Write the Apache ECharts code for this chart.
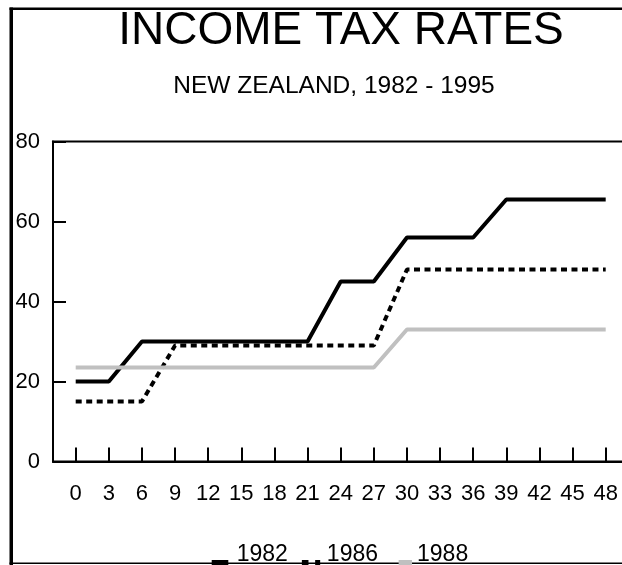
<!DOCTYPE html>
<html>
<head>
<meta charset="utf-8">
<title>Income tax rates</title>
<script src="https://cdn.jsdelivr.net/npm/echarts@6/dist/echarts.min.js"></script>
<style>
  html, body { margin: 0; padding: 0; background: #fff; }
  #chart { width: 622px; height: 565px; }
</style>
</head>
<body>
<div id="chart"></div>
<script>
// income ($000) and marginal rates (%)
const incomes = [0, 3, 6, 9, 12, 15, 18, 21, 24, 27, 30, 33, 36, 39, 42, 45, 48]
const rates1982 = [20, 20, 30, 30, 30, 30, 30, 30, 45, 45, 56, 56, 56, 65.5, 65.5, 65.5, 65.5]
const rates1986 = [15, 15, 15, 29, 29, 29, 29, 29, 29, 29, 48, 48, 48, 48, 48, 48, 48]
const rates1988 = [23.5, 23.5, 23.5, 23.5, 23.5, 23.5, 23.5, 23.5, 23.5, 23.5, 33, 33, 33, 33, 33, 33, 33]
const years = ['1982', '1986', '1988']

const FONT = "'Liberation Sans', Arial, sans-serif"

// legend icons: short bars sitting on the text baseline
const icons = [
  'path://M0,0M20,0M0,15L16.6,15L16.6,20L0,20Z',
  'path://M0,0M20,0M0,15L6.6,15L6.6,20L0,20ZM13.3,15L18.3,15L18.3,20L13.3,20Z',
  'path://M0,0M20,0M6.6,15L20,15L20,20L6.6,20Z'
]

const pairs = rates => incomes.map((x, i) => [x, rates[i]])

const chart = echarts.init(document.getElementById('chart'), null, { renderer: 'canvas' })

chart.setOption({
  animation: false,
  backgroundColor: '#fff',
  textStyle: { fontFamily: FONT, color: '#000' },
  title: [{
    text: 'INCOME TAX RATES',
    left: 341,
    top: 8,
    padding: 0,
    textAlign: 'center',
    textStyle: { fontFamily: FONT, fontSize: 46, fontWeight: 'normal', color: '#000' }
  }, {
    text: 'NEW ZEALAND, 1982 - 1995',
    left: 334,
    top: 74,
    padding: 0,
    textAlign: 'center',
    textStyle: { fontFamily: FONT, fontSize: 24.5, fontWeight: 'normal', color: '#000' }
  }],
  graphic: [
    // outer frame (right side falls outside the picture)
    { type: 'rect', shape: { x: 9.5, y: 7.5, width: 3.5, height: 560 }, style: { fill: '#000' }, silent: true },
    { type: 'rect', shape: { x: 9.5, y: 7.5, width: 700, height: 2.5 }, style: { fill: '#000' }, silent: true },
    { type: 'rect', shape: { x: 9.5, y: 562.5, width: 700, height: 1.5 }, style: { fill: '#000' }, silent: true }
  ],
  legend: {
    left: 211.7,
    top: 543.5,
    padding: 0,
    itemGap: 14,
    itemWidth: 20,
    itemHeight: 20,
    itemStyle: { borderWidth: 0 },
    textStyle: { fontFamily: FONT, fontSize: 23, color: '#000' },
    data: years.map((y, i) => ({ name: y, icon: icons[i] }))
  },
  grid: {
    left: 53,
    top: 141.5,
    width: 575,
    height: 320,
    show: true,
    borderColor: '#000',
    borderWidth: 2,
    containLabel: false,
    outerBoundsMode: 'none'
  },
  xAxis: {
    type: 'value',
    min: -2.056,
    max: 50.02,
    axisLine: { show: true, onZero: false, lineStyle: { color: '#000', width: 2 } },
    axisTick: {
      show: true,
      inside: true,
      length: 14,
      customValues: incomes,
      lineStyle: { color: '#000', width: 2 }
    },
    axisLabel: {
      show: true,
      customValues: incomes,
      margin: 21,
      fontFamily: FONT,
      fontSize: 22,
      color: '#000'
    },
    splitLine: { show: false }
  },
  yAxis: {
    type: 'value',
    min: 0,
    max: 80,
    interval: 20,
    axisLine: { show: true, onZero: false, lineStyle: { color: '#000', width: 2 } },
    axisTick: { show: true, inside: true, length: 13, lineStyle: { color: '#000', width: 2 } },
    axisLabel: { margin: 13, fontFamily: FONT, fontSize: 22, color: '#000' },
    splitLine: { show: false }
  },
  series: [{
    name: years[0],
    type: 'line',
    symbol: 'none',
    color: '#000',
    lineStyle: { color: '#000', width: 4 },
    data: pairs(rates1982)
  }, {
    name: years[1],
    type: 'line',
    symbol: 'none',
    color: '#000',
    lineStyle: { color: '#000', width: 4, type: [6, 4.5] },
    data: pairs(rates1986)
  }, {
    name: years[2],
    type: 'line',
    symbol: 'none',
    color: '#c0c0c0',
    lineStyle: { color: '#c0c0c0', width: 4 },
    data: pairs(rates1988)
  }]
})
</script>
</body>
</html>
